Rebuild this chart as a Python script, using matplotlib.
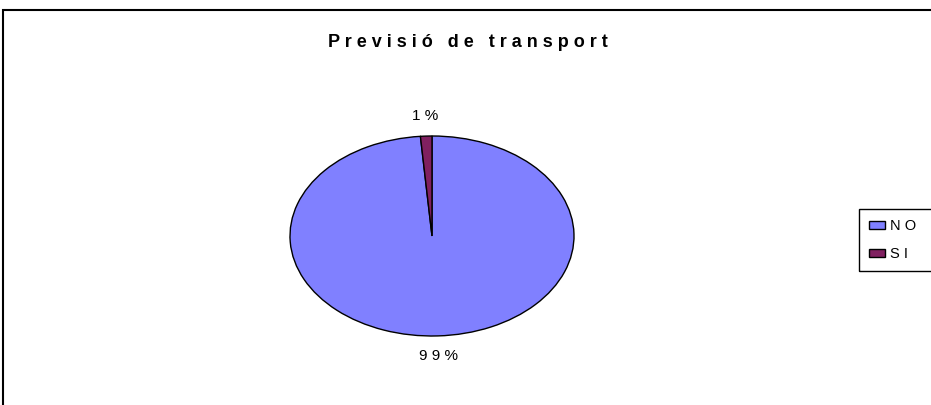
import matplotlib.pyplot as plt
from matplotlib.patches import Rectangle

plt.rcParams['font.family'] = ['Liberation Sans', 'DejaVu Sans']

# data
categories = ["NO", "SI"]
values = [98.7, 1.3]
colors = ["#8080FF", "#802060"]
title = "Previsió de transport"

def spaced(s):
    return " ".join(s)

fig = plt.figure(figsize=(9.31, 4.05), dpi=100)

# outer chart frame (runs past the right and bottom edges)
fig.patches.append(Rectangle((3 / 931, -0.05), 1.0, (405 - 10) / 405 + 0.05,
                             transform=fig.transFigure, fill=False,
                             edgecolor="black", linewidth=1.5))

fig.text(468 / 931, (405 - 47) / 405, "   ".join(spaced(w) for w in title.split()),
         ha="center", va="baseline", fontsize=13, fontweight="bold")

ax = fig.add_axes([(432 - 142) / 931, (405 - 336) / 405, 284 / 931, 200 / 405])
wedges, texts, autotexts = ax.pie(
    values, colors=colors, startangle=90, counterclock=False,
    wedgeprops=dict(edgecolor="black", linewidth=1.0),
    autopct=lambda p: spaced(f"{p:.0f}%"), pctdistance=1.2)
for t in autotexts:
    t.set_fontsize(11)
ax.set_aspect("auto")
ax.set_xlim(-1, 1)
ax.set_ylim(-1, 1)
ax.axis("off")

leg = fig.legend(wedges, [spaced(c) for c in categories],
                 loc="upper left", bbox_to_anchor=(859 / 931, (405 - 209) / 405),
                 frameon=False, fontsize=10.5, handlelength=1.1,
                 handleheight=0.55, handletextpad=0.35, borderpad=0.7,
                 labelspacing=0.95, borderaxespad=0)

# legend box runs off the right edge like in the original
fig.canvas.draw()
bb = leg.get_window_extent().transformed(fig.transFigure.inverted())
fig.patches.append(Rectangle((bb.x0, bb.y0), 1.0, bb.height,
                             transform=fig.transFigure, fill=False,
                             edgecolor="black", linewidth=1.0))

fig.savefig("out.png", dpi=100)
